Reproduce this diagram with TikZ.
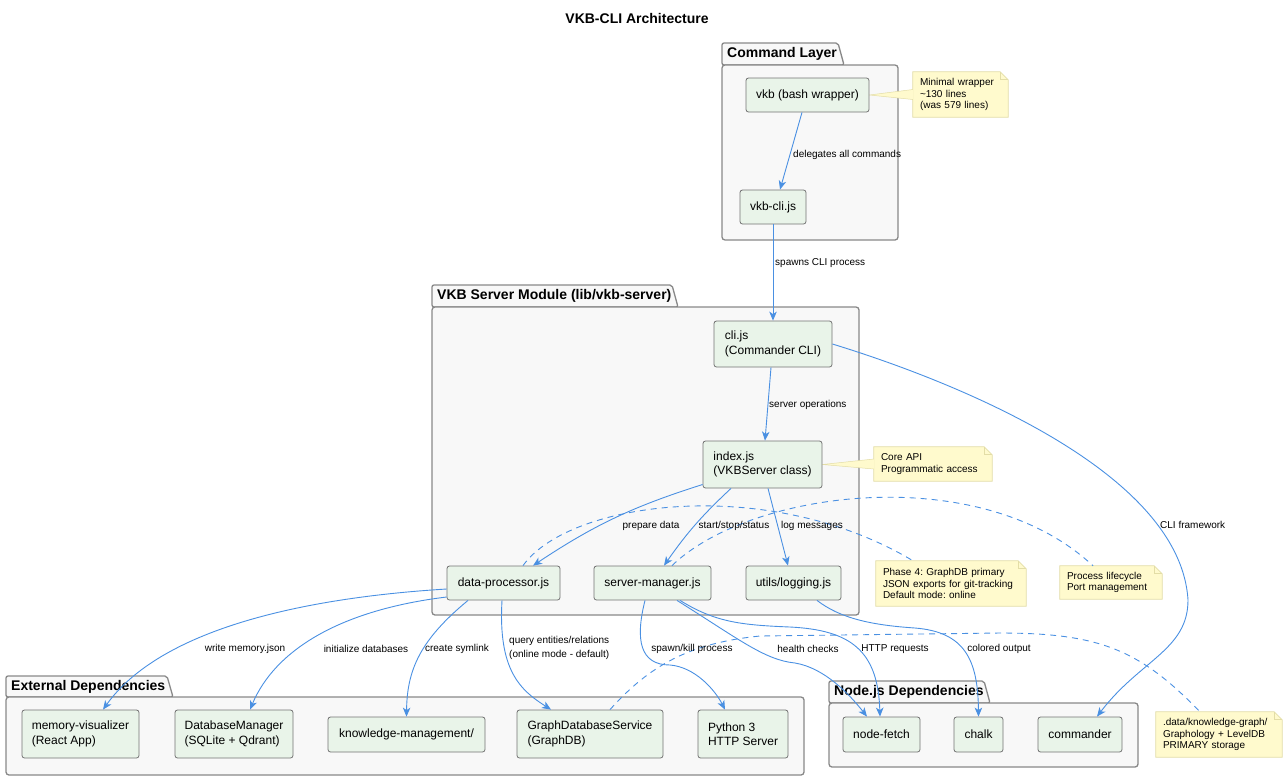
\documentclass[tikz,border=0pt]{standalone}
\usepackage{fontspec}
\setmainfont{Liberation Sans}
\usetikzlibrary{arrows.meta}
\pgfdeclarelayer{background}
\pgfsetlayers{background,main}
\definecolor{edgec}{HTML}{4A90E2}
\definecolor{compfill}{HTML}{E9F4E9}
\definecolor{compborder}{HTML}{737373}
\definecolor{pkgfill}{HTML}{F8F8F8}
\definecolor{pkgborder}{HTML}{888888}
\definecolor{notefill}{HTML}{FFFACD}
\definecolor{noteborder}{HTML}{E3DDA6}
\frenchspacing
\tikzset{
  comp/.style={draw=compborder, fill=compfill, rounded corners=2.5pt, line width=0.8pt,
    font=\fontsize{12}{14.5}\selectfont, inner sep=0pt, align=left},
  notebox/.style={inner xsep=7pt, inner ysep=0pt, align=left,
    font=\fontsize{10}{11.8}\selectfont},
  lbl/.style={font=\fontsize{10}{13.5}\selectfont, inner sep=0pt},
  pkgshape/.style={draw=pkgborder, fill=pkgfill, line width=1.3pt},
  pkgtitle/.style={font=\bfseries\fontsize{14}{16}\selectfont, inner sep=0pt},
  edge/.style={draw=edgec, line width=0.9pt, -{Stealth[length=9pt,width=7.5pt,inset=2.5pt]}},
  dedge/.style={draw=edgec, line width=0.9pt, dash pattern=on 6pt off 5pt},
}
\newcommand\pkgbox[8]{%
  \begin{pgfonlayer}{background}
  \filldraw[pkgshape, rounded corners=2pt] (#1,#4) -- (#1,#2) -- ({#3-6},#2) -- (#3,#4) -- cycle;
  \filldraw[pkgshape, rounded corners=3pt] (#1,#4) rectangle (#5,#6);
  \end{pgfonlayer}
  \node[pkgtitle, anchor=west] (#8) at ({#1+5},{(#2+#4)/2}) {#7};
}
\newcommand\notefold[1]{%
  \begin{pgfonlayer}{background}
  \filldraw[fill=notefill, draw=noteborder, line width=0.7pt]
    (#1.north west) -- ([xshift=-8pt]#1.north east) -- ([yshift=-8pt]#1.north east)
    -- (#1.south east) -- (#1.south west) -- cycle;
  \draw[draw=noteborder, line width=0.7pt]
    ([xshift=-8pt]#1.north east) -- ([xshift=-8pt,yshift=-8pt]#1.north east) -- ([yshift=-8pt]#1.north east);
  \end{pgfonlayer}
}
\begin{document}
\begin{tikzpicture}[x=1pt,y=-1pt]
\useasboundingbox (0,0) rectangle (1287,780);

% title
\node[font=\bfseries\fontsize{14}{16}\selectfont, inner sep=0pt] (title) at (637,18) {VKB-CLI Architecture};

% packages
\pkgbox{722}{43}{844}{65}{898}{240}{Command Layer}{pcmd}
\pkgbox{432}{285}{678}{307}{859}{615}{VKB Server Module (lib/vkb-server)}{psrv}
\pkgbox{6}{676}{173}{697}{804}{775}{External Dependencies}{pext}
\pkgbox{829}{681}{990}{703}{1138}{767}{Node.js Dependencies}{pnode}

% components
\node[comp, minimum width=123, minimum height=34] (vkb) at (807.5,95) {vkb (bash wrapper)};
\node[comp, minimum width=66, minimum height=34] (vkbcli) at (773,207) {vkb-cli.js};
\node[comp, minimum width=118, minimum height=46] (clijs) at (773,344) {cli.js\\(Commander CLI)};
\node[comp, minimum width=119, minimum height=47] (index) at (762.5,464.5) {index.js\\(VKBServer class)};
\node[comp, minimum width=113, minimum height=34] (dp) at (503.5,583) {data-processor.js};
\node[comp, minimum width=117, minimum height=34] (sm) at (652.5,583) {server-manager.js};
\node[comp, minimum width=95, minimum height=34] (utils) at (793.5,583) {utils/logging.js};
\node[comp, minimum width=117, minimum height=48] (memviz) at (80.5,734) {memory-visualizer\\(React App)};
\node[comp, minimum width=118, minimum height=48] (dbm) at (234,734) {DatabaseManager\\(SQLite + Qdrant)};
\node[comp, minimum width=157, minimum height=35] (km) at (406.5,734.5) {knowledge-management/};
\node[comp, minimum width=146, minimum height=48] (gdb) at (590,734) {GraphDatabaseService\\(GraphDB)};
\node[comp, minimum width=90, minimum height=48] (py) at (743,734) {Python 3\\HTTP Server};
\node[comp, minimum width=77, minimum height=35] (nf) at (881.5,734.5) {node-fetch};
\node[comp, minimum width=49, minimum height=35] (chalk) at (978.5,734.5) {chalk};
\node[comp, minimum width=84, minimum height=35] (cmdr) at (1080,734.5) {commander};

% notes
\node[notebox, text width=81, minimum height=45] (nmw) at (960.5,94.5) {Minimal wrapper\\\textasciitilde130 lines\\(was 579 lines)};
\notefold{nmw}
\node[notebox, text width=104, minimum height=34] (ncore) at (933,464) {Core API\\Programmatic access};
\notefold{ncore}
\node[notebox, text width=136, minimum height=45] (nphase) at (951,583.5) {Phase 4: GraphDB primary\\JSON exports for git-tracking\\Default mode: online};
\notefold{nphase}
\node[notebox, text width=88, minimum height=33] (nproc) at (1111,582.5) {Process lifecycle\\Port management};
\notefold{nproc}
\node[notebox, text width=112, minimum height=45] (ndata) at (1219,734.5) {.data/knowledge-graph/\\Graphology + LevelDB\\PRIMARY storage};
\notefold{ndata}

% note wedges
\begin{pgfonlayer}{background}
\fill[notefill] (vkb.east) -- ([yshift=5pt]nmw.west) -- ([yshift=-5pt]nmw.west) -- cycle;
\draw[noteborder, line width=0.5pt] ([yshift=5pt]nmw.west) -- (vkb.east) -- ([yshift=-5pt]nmw.west);
\fill[notefill] (index.east) -- ([yshift=5pt]ncore.west) -- ([yshift=-5pt]ncore.west) -- cycle;
\draw[noteborder, line width=0.5pt] ([yshift=5pt]ncore.west) -- (index.east) -- ([yshift=-5pt]ncore.west);
\end{pgfonlayer}

% dashed note links
\draw[dedge] ([xshift=19.5pt]dp.north) .. controls (570,500) and (770,475) .. ([xshift=-38pt]nphase.north);
\draw[dedge] ([xshift=19.5pt]sm.north) .. controls (750,490) and (980,460) .. ([xshift=-18pt]nproc.north);
\draw[dedge] ([xshift=20pt]gdb.north) .. controls (650,665) and (690,643) .. (760,636) -- (1000,633)
  .. controls (1100,633) and (1140,650) .. ([xshift=-19pt]ndata.north);

% edges
\draw[edge] ([xshift=-5.5pt]vkb.south) -- ([xshift=7pt]vkbcli.north);
\draw[edge] (vkbcli.south) -- (clijs.north);
\draw[edge] ([xshift=-2pt]clijs.south) -- ([xshift=2.5pt]index.north);
\draw[edge] ([yshift=-20pt]index.west) to[bend right=8] ([xshift=29.5pt]dp.north);
\draw[edge] ([xshift=-31.5pt]index.south) to[bend right=6] ([xshift=11.5pt]sm.north);
\draw[edge] ([xshift=5.5pt]index.south) -- ([xshift=-5.5pt]utils.north);
\draw[edge] (clijs.east) .. controls (950,380) and (1180,470) .. (1188,600)
  .. controls (1188,650) and (1140,660) .. ([xshift=17pt]cmdr.north);
\draw[edge] ([yshift=-6pt]dp.west) .. controls (300,598) and (160,630) .. ([xshift=22.5pt]memviz.north);
\draw[edge] ([yshift=-14pt]dp.west) .. controls (340,610) and (275,650) .. ([xshift=16pt]dbm.north);
\draw[edge] ([xshift=-35.5pt]dp.south) .. controls (420,640) and (407,670) .. (km.north);
\draw[edge] ([xshift=-1.5pt]dp.south) .. controls (498,670) and (520,690) .. ([xshift=-39pt]gdb.north);
\draw[edge] ([xshift=-7.5pt]sm.south) .. controls (635,640) and (640,665) .. (670,665)
  .. controls (695,667) and (715,690) .. ([xshift=-18pt]py.north);
\draw[edge] ([xshift=24.5pt]sm.south) .. controls (740,640) and (765,660) .. (795,663)
  .. controls (825,668) and (850,695) .. ([xshift=-14.5pt]nf.north);
\draw[edge] ([xshift=27.5pt]sm.south) .. controls (715,622) and (740,625) .. (790,627)
  .. controls (850,630) and (878,650) .. ([xshift=-1.5pt]nf.north);
\draw[edge] ([xshift=23.5pt]utils.south) .. controls (840,618) and (870,625) .. (915,628)
  .. controls (965,632) and (978,660) .. (chalk.north);

% edge labels
\node[lbl, anchor=west] (l1) at (793,155) {delegates all commands};
\node[lbl, anchor=west] (l2) at (775,263) {spawns CLI process};
\node[lbl, anchor=west] (l3) at (769,405) {server operations};
\node[lbl] (l4) at (651,526) {prepare data};
\node[lbl] (l5) at (734,526) {start/stop/status};
\node[lbl] (l6) at (812,526) {log messages};
\node[lbl, anchor=west] (l7) at (1160,525) {CLI framework};
\node[lbl] (l8) at (245,649) {write memory.json};
\node[lbl] (l9) at (366,649) {initialize databases};
\node[lbl] (l10) at (457,649) {create symlink};
\node[lbl, anchor=west, align=left] (l11) at (509,648) {query entities/relations\\(online mode - default)};
\node[lbl] (l12) at (692,649) {spawn/kill process};
\node[lbl] (l13) at (808,649) {health checks};
\node[lbl] (l14) at (895,649) {HTTP requests};
\node[lbl] (l15) at (999,649) {colored output};
\end{tikzpicture}
\end{document}
